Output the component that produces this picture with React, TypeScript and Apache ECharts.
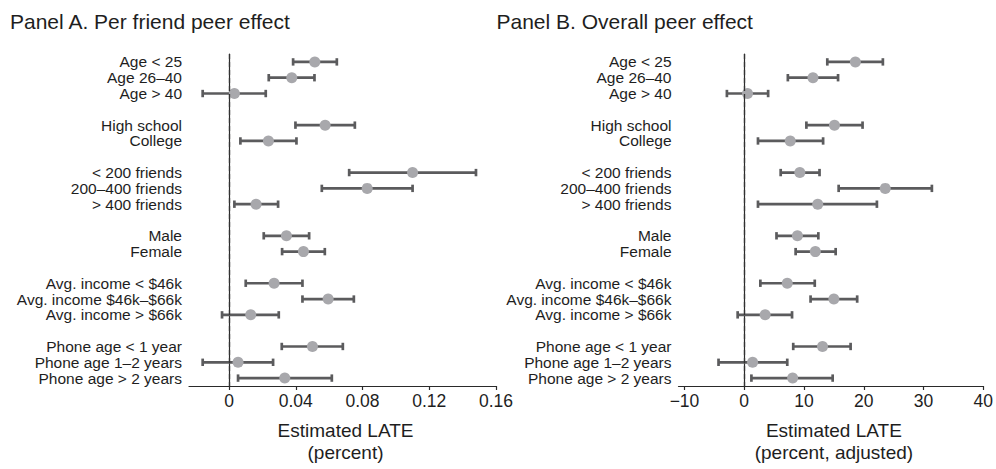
import React, { useEffect, useRef } from 'react';
import * as echarts from 'echarts';

// Subgroup rows, listed top to bottom
const rowLabels = [
  'Age < 25',
  'Age 26–40',
  'Age > 40',
  'High school',
  'College',
  '< 200 friends',
  '200–400 friends',
  '> 400 friends',
  'Male',
  'Female',
  'Avg. income < $46k',
  'Avg. income $46k–$66k',
  'Avg. income > $66k',
  'Phone age < 1 year',
  'Phone age 1–2 years',
  'Phone age > 2 years',
];
// Rows per block; a blank row separates consecutive blocks
const groupSizes = [3, 2, 3, 2, 3, 3];

// Panel A: per friend peer effect (percent)
const perFriendEst = [0.0514, 0.0376, 0.0032, 0.0576, 0.0236, 0.110, 0.0828, 0.0162, 0.0344, 0.0446, 0.027, 0.0594, 0.013, 0.050, 0.0054, 0.0334];
const perFriendLow = [0.0384, 0.0238, -0.0158, 0.0398, 0.0068, 0.072, 0.0556, 0.0032, 0.0208, 0.0318, 0.010, 0.044, -0.0042, 0.0316, -0.0158, 0.0054];
const perFriendHigh = [0.0646, 0.0512, 0.022, 0.0754, 0.0404, 0.148, 0.110, 0.0294, 0.048, 0.0574, 0.044, 0.0748, 0.0298, 0.0682, 0.0264, 0.0616];

// Panel B: overall peer effect (percent, adjusted)
const overallEst = [18.6, 11.5, 0.55, 15.1, 7.7, 9.3, 23.6, 12.3, 8.9, 11.9, 7.2, 15.0, 3.5, 13.1, 1.4, 8.1];
const overallLow = [13.9, 7.3, -2.9, 10.4, 2.3, 6.1, 15.8, 2.3, 5.4, 8.6, 2.7, 11.1, -1.1, 8.2, -4.3, 1.2];
const overallHigh = [23.2, 15.7, 4.0, 19.8, 13.2, 12.6, 31.4, 22.2, 12.4, 15.3, 11.8, 18.9, 8.0, 17.8, 7.2, 14.8];

const ticksA = [0, 0.04, 0.08, 0.12, 0.16];
const ticksB = [-10, 0, 10, 20, 30, 40];

const FONT = '"Liberation Sans", Arial, Helvetica, sans-serif';
const TEXT = '#1e1e1e';
const AXIS = '#2a2a2a';
const BAR = '#5b5b5d';
const DOT = '#a8a8ac';

// Category slots, with placeholder entries for the blank rows
const categories: string[] = [];
const rowSlot: number[] = [];
{
  let r = 0;
  groupSizes.forEach((n, g) => {
    if (g > 0) categories.push(`__gap${g}`);
    for (let i = 0; i < n; i++) {
      rowSlot.push(categories.length);
      categories.push(rowLabels[r++]);
    }
  });
}
const isGap = (v: string) => v.startsWith('__gap');

const renderInterval = (_params: any, api: any) => {
  const slot = api.value(0);
  const lo = api.coord([api.value(1), slot]);
  const hi = api.coord([api.value(2), slot]);
  const h = 3.7;
  const style = { stroke: BAR, lineWidth: 2.7, lineCap: 'butt' };
  return {
    type: 'group',
    children: [
      { type: 'line', shape: { x1: lo[0], y1: lo[1], x2: hi[0], y2: hi[1] }, style },
      { type: 'line', shape: { x1: lo[0], y1: lo[1] - h, x2: lo[0], y2: lo[1] + h }, style },
      { type: 'line', shape: { x1: hi[0], y1: hi[1] - h, x2: hi[0], y2: hi[1] + h }, style },
    ],
  };
};

const yAxisFor = (gridIndex: number) => ({
  type: 'category',
  gridIndex,
  data: categories,
  inverse: true,
  boundaryGap: true,
  axisLine: { lineStyle: { color: AXIS, width: 1.2 } },
  axisTick: {
    alignWithLabel: true,
    length: 4,
    interval: (_i: number, v: string) => !isGap(v),
    lineStyle: { color: AXIS, width: 1.2 },
  },
  axisLabel: {
    interval: 0,
    margin: 7,
    color: TEXT,
    fontFamily: FONT,
    fontSize: 15.5,
    formatter: (v: string) => (isGap(v) ? '' : v),
  },
  splitLine: { show: false },
});

const xAxisFor = (
  gridIndex: number,
  min: number,
  max: number,
  ticks: number[],
  fmt: (v: number) => string,
  name: string
) => ({
  type: 'value',
  gridIndex,
  min,
  max,
  axisLine: { show: true, onZero: false, lineStyle: { color: AXIS, width: 1.2 } },
  axisTick: { show: true, length: 4, customValues: ticks, lineStyle: { color: AXIS, width: 1.2 } },
  axisLabel: {
    customValues: ticks,
    margin: 6,
    color: TEXT,
    fontFamily: FONT,
    fontSize: 17.5,
    formatter: fmt,
  },
  splitLine: { show: false },
  name,
  nameLocation: 'middle',
  nameGap: 33,
  nameTextStyle: {
    color: TEXT,
    fontFamily: FONT,
    fontSize: 19,
    lineHeight: 22,
    padding: [0, 0, 0, 6],
  },
});

const zeroLine = {
  silent: true,
  symbol: ['none', 'none'],
  label: { show: false },
  lineStyle: { color: '#333', width: 1.3, type: [5, 3] },
  data: [{ xAxis: 0 }],
};

const panelSeries = (idx: number, est: number[], low: number[], high: number[]) => [
  {
    type: 'custom',
    xAxisIndex: idx,
    yAxisIndex: idx,
    renderItem: renderInterval,
    encode: { x: [1, 2], y: 0 },
    data: rowSlot.map((s, i) => [s, low[i], high[i]]),
    markLine: zeroLine,
    z: 2,
  },
  {
    type: 'scatter',
    xAxisIndex: idx,
    yAxisIndex: idx,
    symbol: 'circle',
    symbolSize: 11,
    itemStyle: { color: DOT, opacity: 1 },
    data: rowSlot.map((s, i) => [est[i], s]),
    z: 3,
  },
];

export default function App() {
  const ref = useRef<HTMLDivElement>(null);

  useEffect(() => {
    if (!ref.current) return;
    const chart = echarts.init(ref.current, undefined, { renderer: 'svg' });
    chart.setOption({
      animation: false,
      backgroundColor: '#ffffff',
      textStyle: { fontFamily: FONT },
      title: [
        {
          text: 'Panel A. Per friend peer effect',
          left: 10,
          top: 11,
          padding: 0,
          textStyle: { color: TEXT, fontFamily: FONT, fontSize: 21, fontWeight: 'normal' },
        },
        {
          text: 'Panel B. Overall peer effect',
          left: 496.5,
          top: 11,
          padding: 0,
          textStyle: { color: TEXT, fontFamily: FONT, fontSize: 21, fontWeight: 'normal' },
        },
      ],
      grid: [
        { left: 189, top: 54, width: 307, height: 332 },
        { left: 678.5, top: 54, width: 306.5, height: 332 },
      ],
      xAxis: [
        xAxisFor(0, -0.024, 0.16, ticksA, (v: number) => (v === 0 ? '0' : v.toFixed(2)), 'Estimated LATE\n(percent)'),
        xAxisFor(1, -11, 40, ticksB, (v: number) => (v < 0 ? '\u2212' + Math.abs(v) : String(v)), 'Estimated LATE\n(percent, adjusted)'),
      ],
      yAxis: [yAxisFor(0), yAxisFor(1)],
      series: [
        ...panelSeries(0, perFriendEst, perFriendLow, perFriendHigh),
        ...panelSeries(1, overallEst, overallLow, overallHigh),
      ],
    });
    return () => chart.dispose();
  }, []);

  return (
    <div
      ref={ref}
      style={{ position: 'fixed', left: 0, top: 0, width: 996, height: 469, background: '#fff' }}
    />
  );
}
